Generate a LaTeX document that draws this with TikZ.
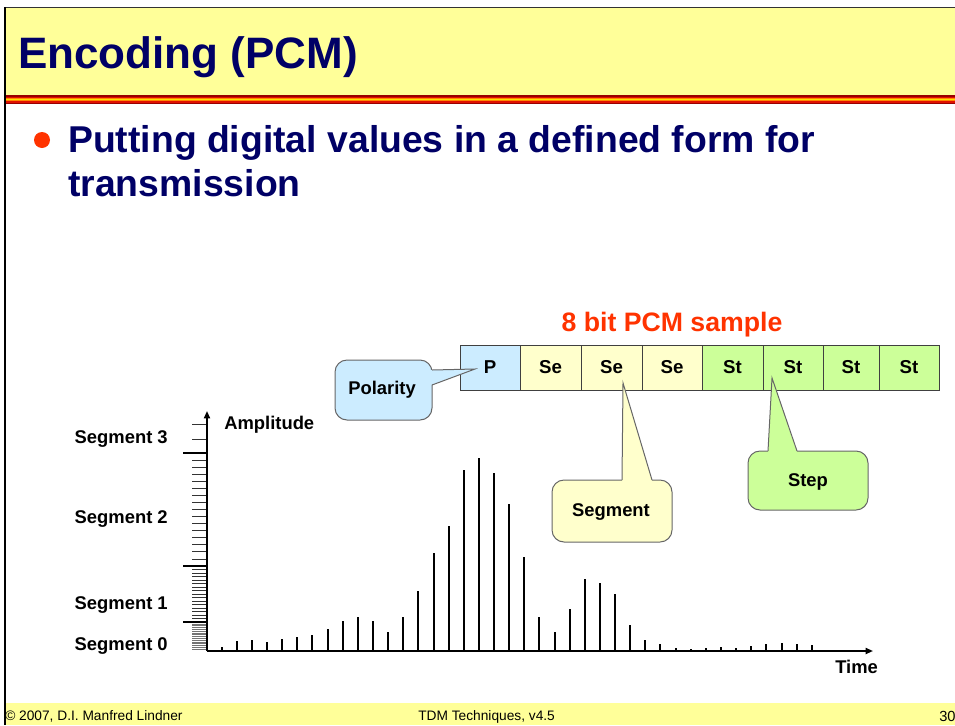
\documentclass[tikz,border=0pt]{standalone}
\usepackage{fontspec}
\setmainfont{Liberation Sans}
\usetikzlibrary{arrows.meta,calc}
\definecolor{navy}{HTML}{000066}
\definecolor{slideyellow}{HTML}{FFFF99}
\definecolor{hotred}{HTML}{FF3300}
\definecolor{polfill}{HTML}{CCECFF}
\definecolor{segfill}{HTML}{FFFFCC}
\definecolor{stepfill}{HTML}{CCFF99}
\definecolor{stripeA}{HTML}{990000}
\definecolor{stripeB}{HTML}{E01000}
\definecolor{stripeC}{HTML}{FF8800}
\definecolor{stripeD}{HTML}{FFE000}
\begin{document}
\begin{tikzpicture}[x=0.75pt,y=-0.75pt,
  cell/.style={draw=black!75, line width=0.75pt, minimum height=33.75pt, inner sep=0pt,
    font=\fontsize{14}{16}\selectfont\bfseries},
  callout/.style={draw=black!60, line width=0.75pt, rounded corners=9pt},
  ptr/.style={draw=black!60, line width=0.75pt, line join=miter},
  bar/.style={line width=1.5pt},
  axis/.style={line width=1.3pt, -{Triangle[length=5.5pt,width=4.5pt]}},
  majtick/.style={line width=1.3pt},
  mintick/.style={line width=0.6pt, black!80},
  dentick/.style={line width=0.45pt, black!55},
  lbl/.style={font=\fontsize{13.8}{16}\selectfont\bfseries, inner sep=0pt},
  foot/.style={font=\fontsize{10.3}{12}\selectfont, inner sep=0pt},
]
\useasboundingbox (0,0) rectangle (955,725);
% ---------- frame, title band, footer ----------
\fill[slideyellow] (5,8) rectangle (955,95);
\fill[stripeA] (5,95) rectangle (955,96.5);
\fill[stripeB] (5,96.5) rectangle (955,98);
\fill[stripeC] (5,98) rectangle (955,99);
\fill[stripeD] (5,99) rectangle (955,100.3);
\fill[stripeC] (5,100.3) rectangle (955,101.3);
\fill[stripeB] (5,101.3) rectangle (955,102.7);
\fill[stripeA] (5,102.7) rectangle (955,104);
\fill[slideyellow] (5,703) rectangle (955,725);
\draw[line width=0.75pt, black!80] (4,7.5) -- (955,7.5);
\draw[line width=1.5pt] (5,7) -- (5,725);
\node[anchor=base west, inner sep=0pt, text=navy, font=\fontsize{33}{38}\selectfont\bfseries]
  (title) at (18,68) {Encoding (PCM)};
% ---------- bullet ----------
\fill[hotred] (42,140) circle (6pt);
\node[anchor=base west, inner sep=0pt, text=navy, font=\fontsize{28}{32}\selectfont\bfseries]
  (b1) at (68,152) {Putting digital values in a defined form for};
\node[anchor=base west, inner sep=0pt, text=navy, font=\fontsize{28}{32}\selectfont\bfseries]
  (b2) at (68,196) {transmission};
% ---------- PCM sample ----------
\node[anchor=base, inner sep=0pt, text=hotred, font=\fontsize{20}{24}\selectfont\bfseries]
  (hdr) at (672,331) {8 bit PCM sample};
\node[cell, fill=polfill, minimum width=45pt]    (c1) at (490,367.5)   {P};
\node[cell, fill=segfill, minimum width=45.75pt] (c2) at (550.5,367.5) {Se};
\node[cell, fill=segfill, minimum width=45.75pt] (c3) at (611.5,367.5) {Se};
\node[cell, fill=segfill, minimum width=45pt]    (c4) at (672,367.5)   {Se};
\node[cell, fill=stepfill, minimum width=45.75pt](c5) at (732.5,367.5) {St};
\node[cell, fill=stepfill, minimum width=45pt]   (c6) at (793,367.5)   {St};
\node[cell, fill=stepfill, minimum width=42pt]   (c7) at (851,367.5)   {St};
\node[cell, fill=stepfill, minimum width=45pt]   (c8) at (909,367.5)   {St};
% ---------- callouts ----------
% Polarity
\draw[callout, fill=polfill] (335,360) rectangle (432,420);
\coordinate (ptip) at ($(c1.center)+(-15,1.5)$);
\fill[polfill] (431,370) -- (ptip) -- (431,385) -- cycle;
\draw[ptr] (432,370) -- (ptip) -- (432,385);
\node[lbl] (pol) at (382,390) {Polarity};
% Segment
\draw[callout, fill=segfill] (552,480) rectangle (672,542);
\coordinate (stip) at ($(c3.center)+(11.5,15.5)$);
\fill[segfill] (622,481) -- (stip) -- (652,481) -- cycle;
\draw[ptr] (622,480) -- (stip) -- (652,480);
\node[lbl] (seg) at (611,512) {Segment};
% Step
\draw[callout, fill=stepfill] (748,451) rectangle (868,510);
\coordinate (ttip) at ($(c6.center)+(-21,10.5)$);
\fill[stepfill] (768,452) -- (ttip) -- (797,452) -- cycle;
\draw[ptr] (768,451) -- (ttip) -- (797,451);
\node[lbl] (stp) at (808,482) {Step};
% ---------- chart ----------
\coordinate (o) at (207,651);
\coordinate (ytop) at (207,411);
\coordinate (xend) at (873,651);
% ticks
\foreach \k in {1,2} \draw[mintick] (192,{453-14.1*\k}) -- (207,{453-14.1*\k});
\foreach \k in {1,...,15} \draw[mintick] (192,{453+7.0625*\k}) -- (207,{453+7.0625*\k});
\foreach \k in {1,...,15} \draw[mintick] (192,{566+3.5*\k}) -- (207,{566+3.5*\k});
\foreach \k in {1,...,15} \draw[dentick] (192,{622+1.8125*\k}) -- (207,{622+1.8125*\k});
\foreach \yy in {453,566,622} \draw[majtick] (183,\yy) -- (207,\yy);
% bars
\foreach \h [count=\i from 0] in {647.3,641.3,640,642,638.7,637,635,629,620.7,617,620.7,632.3,617,590.7,553,526.3,469.7,458.3,473.3,503.7,556.7,617,632.3,609.3,579.3,583.3,594.3,624.7,640,644.3,648.3,649.3,648.3,647.3,648.3,646,644,642.7,643.7,645.3}
  \draw[bar] ({221.7+15.13*\i},651) -- ({221.7+15.13*\i},\h);
\draw[axis] (o) -- (ytop);
\draw[axis] (o) -- (xend);
\node[lbl, anchor=base west] (amp) at (224,429) {Amplitude};
\node[lbl, anchor=base west] (time) at (835,673) {Time};
\node[lbl, anchor=base east] (s3) at (168,443) {Segment 3};
\node[lbl, anchor=base east] (s2) at (168,523) {Segment 2};
\node[lbl, anchor=base east] (s1) at (168,609.5) {Segment 1};
\node[lbl, anchor=base east] (s0) at (168,650) {Segment 0};
% ---------- footer ----------
\node[foot, anchor=base west] (f1) at (5,720) {© 2007, D.I. Manfred Lindner};
\node[foot, anchor=base west] (f2) at (418,720) {TDM Techniques, v4.5};
\node[foot, anchor=base west, font=\fontsize{11}{13}\selectfont] (f3) at (939,721) {30};
\end{tikzpicture}
\end{document}
